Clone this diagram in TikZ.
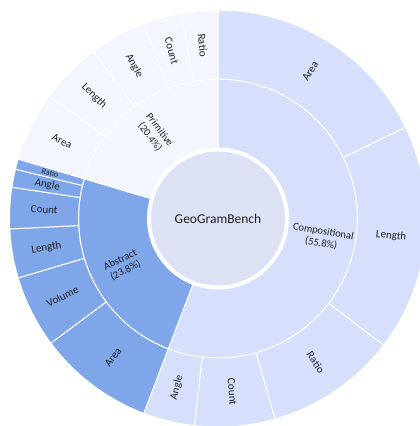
\documentclass[tikz,border=0pt]{standalone}
\usepackage{fontspec}
\setmainfont{Carlito}
\definecolor{compfill}{HTML}{D6E0FC}
\definecolor{absfill}{HTML}{7EA6E8}
\definecolor{primfill}{HTML}{F3F6FE}
\definecolor{hubfill}{HTML}{DCE2F4}
\definecolor{labelgray}{HTML}{222222}
% ring piece: inner radius, outer radius, start angle, end angle, colour
\newcommand{\ringpart}[5]{%
  \draw[white, line width=1bp, fill=#5] (#3:#1bp) arc[start angle=#3, end angle=#4, radius=#1bp] -- (#4:#2bp) arc[start angle=#4, end angle=#3, radius=#2bp] -- cycle;}
% label: name, angle, radius, font size, text
\newcommand{\seglabel}[5]{%
  \pgfmathsetmacro{\segrot}{cos(#2)<0 ? #2-180 : #2}
  \node[text=labelgray, rotate=\segrot, align=center, inner sep=1bp, font=\fontsize{#4bp}{12bp}\selectfont] (#1) at (#2:#3bp) {#5};}
\begin{document}
\begin{tikzpicture}
		\useasboundingbox (-218bp,-207.5bp) rectangle (202bp,218.5bp);
		\clip (-218bp,-207.5bp) rectangle (202bp,218.5bp);
		%inner ring
		\ringpart{69}{139.5}{90}{-110.88}{compfill}
		\ringpart{69}{139.5}{249.12}{163.44}{absfill}
		\ringpart{69}{139.5}{163.44}{90}{primfill}
		%Compositional
		\ringpart{139.5}{208.5}{90}{25.92}{compfill}
		\ringpart{139.5}{208.5}{25.92}{-37.44}{compfill}
		\ringpart{139.5}{208.5}{-37.44}{-74.16}{compfill}
		\ringpart{139.5}{208.5}{-74.16}{-96.48}{compfill}
		\ringpart{139.5}{208.5}{-96.48}{-110.88}{compfill}
		%Abstract
		\ringpart{139.5}{208.5}{249.12}{216.72}{absfill}
		\ringpart{139.5}{208.5}{216.72}{196.56}{absfill}
		\ringpart{139.5}{208.5}{196.56}{182.88}{absfill}
		\ringpart{139.5}{208.5}{182.88}{171.36}{absfill}
		\ringpart{139.5}{208.5}{171.36}{166.32}{absfill}
		\ringpart{139.5}{208.5}{166.32}{163.44}{absfill}
		%Primitive
		\ringpart{139.5}{208.5}{163.44}{144}{primfill}
		\ringpart{139.5}{208.5}{144}{126.72}{primfill}
		\ringpart{139.5}{208.5}{126.72}{110.88}{primfill}
		\ringpart{139.5}{208.5}{110.88}{100.08}{primfill}
		\ringpart{139.5}{208.5}{100.08}{90}{primfill}
		%hub
		\draw[white, line width=4bp, fill=hubfill] (0,0) circle[radius=69bp];
		\node[text=labelgray, font=\fontsize{13.5bp}{15bp}\selectfont] (hub) at (0,0) {GeoGramBench};
		%labels inner ring
		\seglabel{comp}{-10.44}{106}{10.5}{Compositional\\(55.8\%)}
		\seglabel{abs}{206.28}{106}{10.5}{Abstract\\(23.8\%)}
		\seglabel{prim}{126.72}{106}{10.5}{Primitive\\(20.4\%)}
		%labels outer ring
		\seglabel{compArea}{57.96}{174}{11}{Area}
		\seglabel{compLength}{-5.76}{174}{11}{Length}
		\seglabel{compRatio}{-55.8}{174}{11}{Ratio}
		\seglabel{compCount}{-85.32}{174}{11}{Count}
		\seglabel{compAngle}{-103.68}{174}{11}{Angle}
		\seglabel{absArea}{232.92}{174}{11}{Area}
		\seglabel{absVolume}{206.64}{174}{11}{Volume}
		\seglabel{absLength}{189.72}{174}{11}{Length}
		\seglabel{absCount}{177.12}{174}{11}{Count}
		\seglabel{absAngle}{168.84}{174}{11}{Angle}
		\seglabel{absRatio}{164.88}{174}{8}{Ratio}
		\seglabel{primArea}{153.72}{174}{11}{Area}
		\seglabel{primLength}{135.36}{174}{11}{Length}
		\seglabel{primAngle}{118.8}{174}{11}{Angle}
		\seglabel{primCount}{105.48}{174}{11}{Count}
		\seglabel{primRatio}{95.04}{174}{11}{Ratio}
\end{tikzpicture}
\end{document}
